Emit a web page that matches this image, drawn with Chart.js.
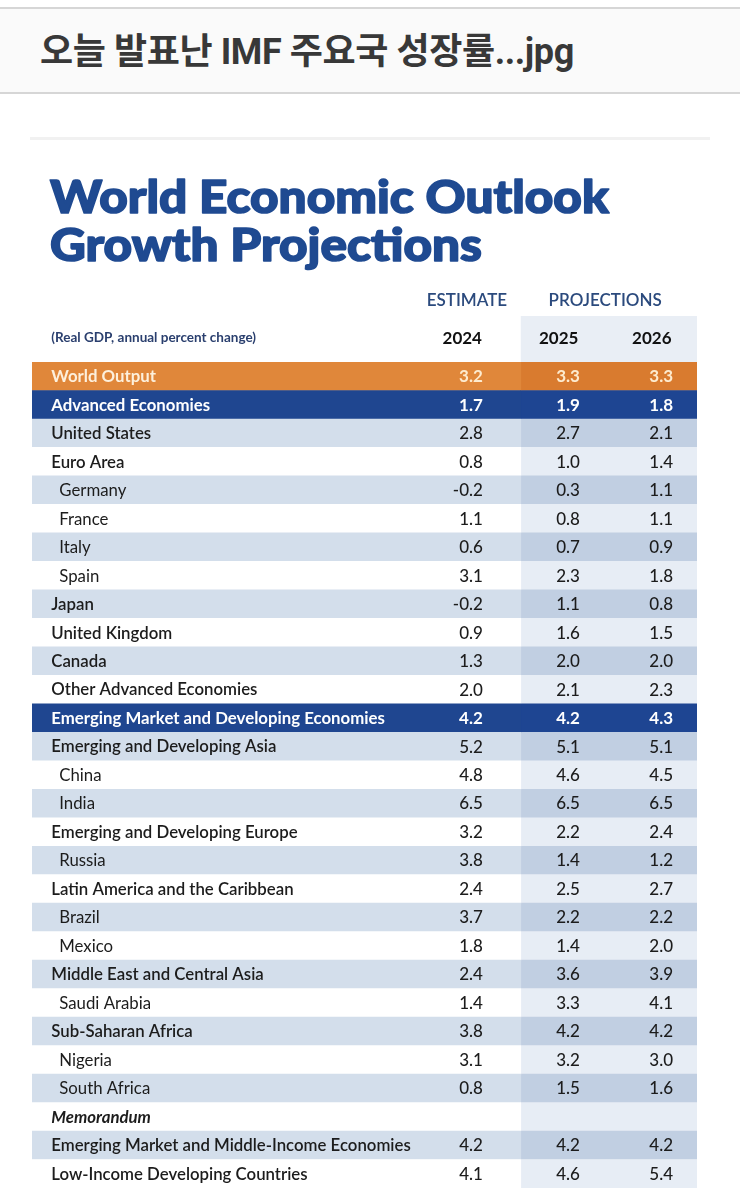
<!DOCTYPE html>
<html>
<head>
<meta charset="utf-8">
<title>World Economic Outlook Growth Projections</title>
<script src="https://cdn.jsdelivr.net/npm/chart.js@4.4.1/dist/chart.umd.min.js"></script>
<style>
  html, body { margin: 0; padding: 0; background: #fff; }
  body { width: 740px; height: 1190px; position: relative; overflow: hidden; }
  #topbar {
    position: absolute; left: 0; top: 7px; width: 740px; height: 83px;
    background: #fafafa; border-top: 2px solid #d6d6d6; border-bottom: 2px solid #d6d6d6;
  }
  #topbar h1 {
    margin: 0; position: absolute; left: 40px; top: 13px;
    font: bold 36px Roboto, "Noto Sans CJK KR", sans-serif; color: #383838;
    letter-spacing: -0.4px;
  }
  #sheet {
    position: absolute; left: 30px; top: 137px; width: 680px; height: 1053px;
    border-top: 3px solid #f1f1f1;
  }
</style>
</head>
<body>
<div id="topbar"><h1>오늘 발표난 IMF 주요국 성장률...jpg</h1></div>
<div id="sheet"><canvas id="chart"></canvas></div>

<script>
// Table rows (real GDP, annual percent change)
const rows = [
    'World Output', 'Advanced Economies', 'United States', 'Euro Area', 'Germany', 'France',
    'Italy', 'Spain', 'Japan', 'United Kingdom', 'Canada', 'Other Advanced Economies',
    'Emerging Market and Developing Economies', 'Emerging and Developing Asia', 'China', 'India',
    'Emerging and Developing Europe', 'Russia', 'Latin America and the Caribbean', 'Brazil',
    'Mexico', 'Middle East and Central Asia', 'Saudi Arabia', 'Sub-Saharan Africa', 'Nigeria',
    'South Africa', 'Memorandum', 'Emerging Market and Middle-Income Economies',
    'Low-Income Developing Countries'
];
// world / group / top / sub / memo
const levels = [
    'world', 'group', 'top', 'top', 'sub', 'sub', 'sub', 'sub', 'top', 'top', 'top', 'top',
    'group', 'top', 'sub', 'sub', 'top', 'sub', 'top', 'sub', 'sub', 'top', 'sub', 'top', 'sub',
    'sub', 'memo', 'top', 'top'
];
const years = ['2024', '2025', '2026'];
const est2024 = [3.2, 1.7, 2.8, 0.8, -0.2, 1.1, 0.6, 3.1, -0.2, 0.9, 1.3, 2.0, 4.2, 5.2, 4.8, 6.5, 3.2, 3.8, 2.4, 3.7, 1.8, 2.4, 1.4, 3.8, 3.1, 0.8, null, 4.2, 4.1];
const proj2025 = [3.3, 1.9, 2.7, 1.0, 0.3, 0.8, 0.7, 2.3, 1.1, 1.6, 2.0, 2.1, 4.2, 5.1, 4.6, 6.5, 2.2, 1.4, 2.5, 2.2, 1.4, 3.6, 3.3, 4.2, 3.2, 1.5, null, 4.2, 4.6];
const proj2026 = [3.3, 1.8, 2.1, 1.4, 1.1, 1.1, 0.9, 1.8, 0.8, 1.5, 2.0, 2.3, 4.3, 5.1, 4.5, 6.5, 2.4, 1.2, 2.7, 2.2, 2.0, 3.9, 4.1, 4.2, 3.0, 1.6, null, 4.2, 5.4];

// column layout on the x scale (0..100 across the table)
const COL = { split: 73.5, end: 100, label: 2.9, indent: 4.1,
              numRight: [67.8, 82.4, 96.4], yearMid: [64.7, 79.2, 93.2],
              estimate: 65.4, projections: 86.2 };

const BLUE = '#1f4a91';

// shading: rows after a group header alternate light / white
let stripe = [];
let n = 0;
levels.forEach(function(lv) {
    if (lv === 'world' || lv === 'group') { stripe.push(lv); n = 0; return; }
    stripe.push(n % 2 === 0 ? 'light' : 'white');
    n++;
});

const leftColors = { world: '#e0873a', group: '#1f4690', light: '#d3deeb', white: '#ffffff' };
const rightColors = { world: '#d97b2f', group: '#1e4592', light: '#c1cfe2', white: '#e7edf5' };

const tablePlugin = {
    id: 'tableText',
    beforeDatasetsDraw(chart) {
        // projections column shading in the header
        const { ctx, chartArea, scales: { x } } = chart;
        const x0 = x.getPixelForValue(COL.split), x1 = x.getPixelForValue(COL.end);
        ctx.save();
        ctx.fillStyle = '#e9eef5';
        ctx.fillRect(x0, chartArea.top - 46, x1 - x0, 46);
        ctx.restore();
    },
    afterDatasetsDraw(chart) {
        const { ctx, chartArea, scales: { x, y } } = chart;
        const top = chartArea.top;
        ctx.save();

        // title (the original face is wide and heavy, so stretch and thicken Lato)
        ctx.save();
        ctx.fillStyle = BLUE;
        ctx.strokeStyle = BLUE;
        ctx.lineWidth = 1.6;
        ctx.lineJoin = 'round';
        ctx.textAlign = 'left';
        ctx.textBaseline = 'alphabetic';
        ctx.font = '900 45px Lato';
        const tx = x.getPixelForValue(2.7);
        ctx.translate(tx, 0);
        ctx.scale(1.1, 1);
        ['World Economic Outlook', 'Growth Projections'].forEach(function(line, i) {
            ctx.fillText(line, 0, top - 149 + i * 48);
            ctx.strokeText(line, 0, top - 149 + i * 48);
        });
        ctx.restore();

        // column headers
        ctx.textAlign = 'center';
        ctx.textBaseline = 'alphabetic';
        ctx.fillStyle = '#2b4a7d';
        ctx.font = '600 17px Lato';
        ctx.fillText('ESTIMATE', x.getPixelForValue(COL.estimate), top - 56);
        ctx.fillText('PROJECTIONS', x.getPixelForValue(COL.projections), top - 56);
        ctx.fillStyle = '#111';
        ctx.font = 'bold 17px Lato';
        years.forEach(function(yr, i) {
            ctx.fillText(yr, x.getPixelForValue(COL.yearMid[i]), top - 18);
        });
        ctx.textAlign = 'left';
        ctx.fillStyle = '#2a3f6e';
        ctx.font = 'bold 13.5px Lato';
        ctx.fillText('(Real GDP, annual percent change)', x.getPixelForValue(COL.label), top - 20);

        // row labels and values
        ctx.textBaseline = 'middle';
        const series = [est2024, proj2025, proj2026];
        rows.forEach(function(name, i) {
            const lv = levels[i];
            const yPix = y.getPixelForValue(i) + 0.5;
            let color = '#1c1c1c', numColor = '#1c1c1c';
            let font = '600 16.8px Lato', numFont = '500 17px Lato';
            if (lv === 'world') { color = '#fdf0dc'; numColor = '#fdebcf'; font = 'bold 16.8px Lato'; numFont = 'bold 17px Lato'; }
            if (lv === 'group') { color = '#ffffff'; numColor = '#ffffff'; font = 'bold 16.8px Lato'; numFont = 'bold 17px Lato'; }
            if (lv === 'sub') font = '16.8px Lato';
            if (lv === 'memo') font = 'italic bold 16.8px Lato';
            ctx.textAlign = 'left';
            ctx.fillStyle = color;
            ctx.font = font;
            ctx.fillText(name, x.getPixelForValue(lv === 'sub' ? COL.indent : COL.label), yPix);
            ctx.textAlign = 'right';
            ctx.fillStyle = numColor;
            ctx.font = numFont;
            series.forEach(function(s, c) {
                if (s[i] === null) return;
                ctx.fillText(s[i].toFixed(1), x.getPixelForValue(COL.numRight[c]), yPix);
            });
        });
        ctx.restore();
    }
};

const ctx = document.getElementById('chart').getContext('2d');
const chart = new Chart(ctx, {
    type: 'bar',
    data: {
        labels: rows,
        datasets: [{
            label: 'label band',
            data: rows.map(() => [0, COL.split]),
            backgroundColor: stripe.map(s => leftColors[s]),
            grouped: false,
            barPercentage: 1,
            categoryPercentage: 1,
            borderWidth: 0
        }, {
            label: 'projection band',
            data: rows.map(() => [COL.split, COL.end]),
            backgroundColor: stripe.map(s => rightColors[s]),
            grouped: false,
            barPercentage: 1,
            categoryPercentage: 1,
            borderWidth: 0
        }]
    },
    options: {
        indexAxis: 'y',
        responsive: true,
        maintainAspectRatio: false,
        animation: false,
        layout: { padding: { top: 222, left: 2, right: 13, bottom: 5 } },
        scales: {
            x: { type: 'linear', min: 0, max: 100, display: false },
            y: { display: false, offset: true }
        },
        plugins: {
            legend: { display: false },
            tooltip: { enabled: false }
        }
    },
    plugins: [tablePlugin]
});
</script>
</body>
</html>
